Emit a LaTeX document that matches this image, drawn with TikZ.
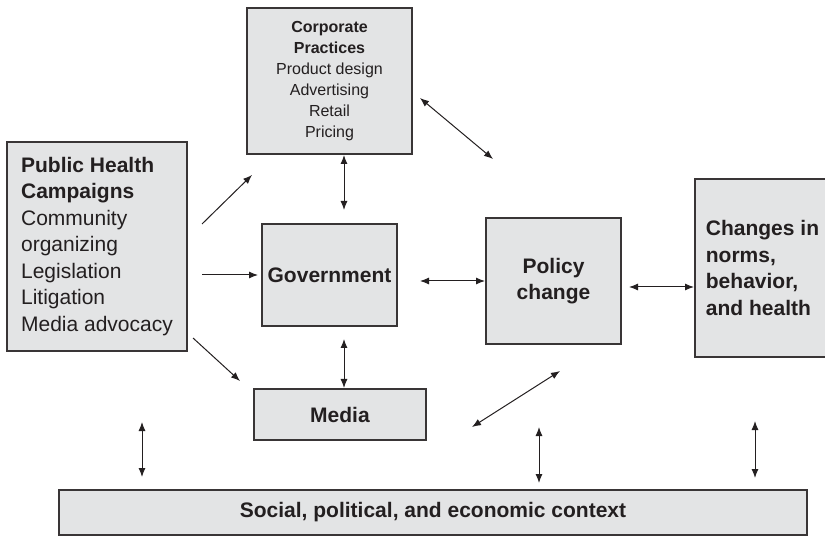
\documentclass[tikz,border=0pt]{standalone}
\usepackage{fontspec}
\setmainfont{Liberation Sans}
\usepackage{xcolor}
\usetikzlibrary{arrows.meta, positioning, calc}
\definecolor{boxfill}{HTML}{E3E4E5}
\definecolor{ink}{HTML}{231F20}

\begin{document}
\begin{tikzpicture}[
  x=1pt, y=-1pt,
  box/.style={draw=ink!90, line width=1.3pt, fill=boxfill, text=ink, outer sep=0pt, inner sep=0pt, font=\fontsize{21}{26.5}\selectfont},
  lbox/.style={box, align=left},
  cbox/.style={box, align=center},
  one/.style={-{Latex[length=9pt,width=7pt]}, line width=1pt, draw=ink},
  two/.style={{Latex[length=9pt,width=7pt]}-{Latex[length=9pt,width=7pt]}, line width=1pt, draw=ink},
]
\useasboundingbox (0,0) rectangle (825,537);
\clip (0,0) rectangle (825,537);
\node[cbox, minimum width=135pt, minimum height=102pt] at (329.5,275) (gov) {\textbf{Government}};
\node[cbox, minimum width=165pt, minimum height=146pt, font=\fontsize{16}{21}\selectfont, above=70pt of gov] (corp)
  {\textbf{Corporate}\\\textbf{Practices}\\Product design\\Advertising\\Retail\\Pricing};
\node[cbox, minimum width=135pt, minimum height=126pt, right=89pt of gov, yshift=-6pt] (pol) {\textbf{Policy}\\\textbf{change}};
\node[lbox, minimum width=135pt, minimum height=178pt, right=74pt of pol, yshift=13pt] (chg)
  {\textbf{Changes in}\\\textbf{norms,}\\\textbf{behavior,}\\\textbf{and health}};
\node[lbox, minimum width=180pt, minimum height=209pt, left=75pt of gov, yshift=28.5pt] (ph)
  {\textbf{Public Health}\\\textbf{Campaigns}\\Community\\organizing\\Legislation\\Litigation\\Media advocacy};
\node[cbox, minimum width=172pt, minimum height=51pt, below=63pt of gov, xshift=10.5pt] (media) {\textbf{Media}};
\node[cbox, minimum width=748pt, minimum height=45pt] at (433,512.5) (ctx) {\textbf{Social, political, and economic context}};
% campaigns push outwards
\draw[one] ($(ph.north east)+(15,82)$) -- ($(corp.south west)+(5,21)$);
\draw[one, shorten <=15pt, shorten >=4pt] (ph.east |- gov.west) -- (gov.west);
\draw[one] ($(ph.south east)+(6,-13)$) -- ($(media.north west)+(-14,-8)$);
% two-way links
\draw[two] ($(corp.south)+(14.5,1)$) -- ($(gov.north)+(14.5,-14)$);
\draw[two] ($(gov.south)+(14.5,13)$) -- ($(media.north)+(4,-1)$);
\draw[two] ($(corp.east)+(8,17)$) -- ($(pol.north west)+(7,-59)$);
\draw[two, shorten <=23pt, shorten >=1pt] (gov.east |- pol.west) -- (pol.west);
\draw[two] ($(pol.east)+(8,6)$) -- ($(chg.west)+(-1,19)$);
\draw[two] ($(media.east)+(46,12.5)$) -- ($(pol.south)+(6.5,27)$);
% context row
\draw[two] ($(ph.south)+(45,71)$) -- ($(ctx.north west)+(83,-13)$);
\draw[two] ($(pol.south)+(-14.5,83)$) -- ($(ctx.north west)+(480,-7)$);
\draw[two] ($(chg.south)+(-7.5,64)$) -- ($(ctx.north west)+(696,-12)$);
\end{tikzpicture}
\end{document}
